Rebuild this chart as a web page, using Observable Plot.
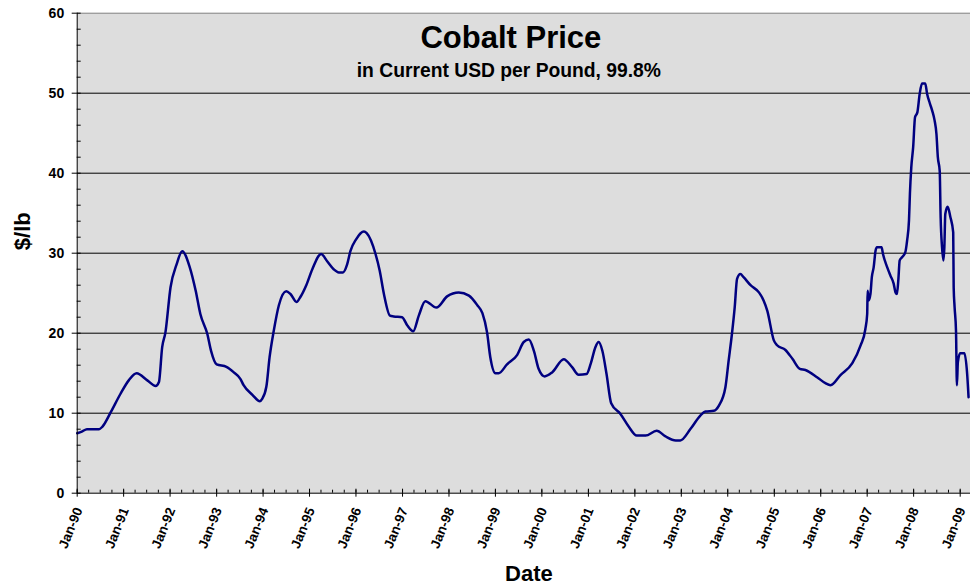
<!DOCTYPE html>
<html><head><meta charset="utf-8">
<script src="https://cdn.jsdelivr.net/npm/d3@7"></script>
<script src="https://cdn.jsdelivr.net/npm/@observablehq/plot@0.6"></script>
<style>body{margin:0;background:#fff;} svg{display:block}</style>
</head><body><div id="chart"></div>
<script>
const title = "Cobalt Price";
const subtitle = "in Current USD per Pound, 99.8%";
const xLabel = "Date";
const yLabel = "$/lb";
const tickYears = [1990,1991,1992,1993,1994,1995,1996,1997,1998,1999,2000,2001,2002,2003,2004,2005,2006,2007,2008,2009];
const tickLabels = ["Jan-90","Jan-91","Jan-92","Jan-93","Jan-94","Jan-95","Jan-96","Jan-97","Jan-98","Jan-99","Jan-00","Jan-01","Jan-02","Jan-03","Jan-04","Jan-05","Jan-06","Jan-07","Jan-08","Jan-09"];
const yTicks = [0,10,20,30,40,50,60];

// decimal year of each observation
const dateYears = [
1990.00,1990.10,1990.21,1990.47,1990.54,1990.72,1990.93,1991.11,1991.28,1991.51,1991.69,1991.76,1991.83,1991.90,
1992.01,1992.14,1992.26,1992.42,1992.55,1992.65,1992.80,1992.88,1993.00,1993.21,1993.37,1993.51,1993.58,1993.77,
1993.93,1993.98,1994.07,1994.14,1994.23,1994.34,1994.50,1994.59,1994.72,1994.80,1994.93,1995.06,1995.25,1995.38,
1995.52,1995.63,1995.72,1995.81,1995.88,1996.01,1996.10,1996.17,1996.23,1996.42,1996.51,1996.60,1996.73,1996.81,
1996.99,1997.10,1997.23,1997.35,1997.49,1997.73,1997.96,1998.21,1998.43,1998.61,1998.72,1998.82,1998.89,1999.00,
1999.07,1999.25,1999.47,1999.61,1999.72,1999.83,1999.93,2000.06,2000.22,2000.47,2000.65,2000.79,2000.96,2001.05,
2001.15,2001.22,2001.30,2001.39,2001.49,2001.69,2001.87,2002.04,2002.23,2002.47,2002.66,2002.88,2002.98,2003.20,
2003.41,2003.52,2003.70,2003.81,2003.95,2004.02,2004.09,2004.15,2004.20,2004.27,2004.34,2004.49,2004.67,2004.77,
2004.85,2004.99,2005.06,2005.24,2005.39,2005.55,2005.67,2005.92,2006.10,2006.21,2006.43,2006.68,2006.86,2006.96,
2007.00,2007.01,2007.03,2007.07,2007.10,2007.14,2007.18,2007.21,2007.31,2007.34,2007.43,2007.50,2007.57,2007.61,
2007.64,2007.67,2007.70,2007.75,2007.82,2007.86,2007.90,2007.92,2007.95,2007.99,2008.03,2008.08,2008.13,2008.18,
2008.25,2008.29,2008.35,2008.40,2008.45,2008.49,2008.52,2008.56,2008.58,2008.61,2008.64,2008.66,2008.68,2008.73,
2008.79,2008.85,2008.86,2008.88,2008.91,2008.93,2008.95,2009.00,2009.09,2009.15,2009.18
];
// price, USD per pound
const priceUSD = [
7.5,7.7,8.0,8.0,8.3,10.1,12.4,14.1,15.0,14.1,13.4,13.9,18.25,20.1,
25.75,28.6,30.25,28.3,25.3,22.4,19.9,17.8,16.1,15.8,15.1,14.3,13.5,12.3,
11.5,11.8,13.3,17.0,20.3,23.5,25.25,24.9,23.9,24.5,26.0,28.0,29.9,29.0,
28.0,27.6,27.6,28.6,30.25,31.8,32.5,32.7,32.5,29.9,27.8,24.9,22.2,22.1,
22.0,21.0,20.25,22.2,24.0,23.2,24.6,25.1,24.7,23.5,22.5,20.1,17.0,15.0,
15.0,16.1,17.3,18.9,19.2,17.75,15.55,14.6,15.1,16.75,15.75,14.8,14.9,16.2,
18.25,18.9,17.8,14.9,11.25,9.9,8.3,7.2,7.2,7.8,7.1,6.6,6.6,8.05,
9.7,10.2,10.3,10.95,13.25,16.6,19.9,23.25,26.8,27.4,27.0,26.0,25.1,24.1,
22.8,19.1,18.5,17.9,16.8,15.55,15.4,14.5,13.75,13.5,14.8,16.25,18.5,20.5,
22.4,25.3,24.1,24.9,27.0,28.25,30.3,30.75,30.75,29.9,28.25,27.2,26.2,25.1,
24.9,26.6,29.1,29.5,30.1,31.6,34.1,37.4,40.75,43.25,47.0,47.6,49.9,51.2,
51.2,49.9,48.7,47.8,46.6,44.9,42.0,40.3,34.5,30.75,29.1,30.75,34.9,35.8,
34.5,32.6,25.75,23.25,20.3,13.5,16.4,17.5,17.5,14.9,12.0
];

const toDate = y => {
  const yr = Math.floor(y);
  const s = Date.UTC(yr, 0, 1), e = Date.UTC(yr + 1, 0, 1);
  return new Date(s + (y - yr) * (e - s));
};
const data = dateYears.map((t, i) => ({date: toDate(t), price: priceUSD[i]}));
const tickDates = tickYears.map(y => new Date(Date.UTC(y, 0, 1)));
const xStart = new Date(Date.UTC(1990, 0, 1));
const xEnd = new Date(Date.UTC(2009, 2, 23));
const quarterDates = d3.utcMonth.every(3).range(xStart, xEnd);
const minorY = d3.range(0, 61, 2);

const chart = Plot.plot({
  width: 970,
  height: 586,
  marginLeft: 76.7,
  marginRight: 0,
  marginTop: 12.7,
  marginBottom: 93.3,
  style: {fontFamily: "'Liberation Sans', Arial, sans-serif", background: "#fff", color: "#000"},
  x: {type: "utc", domain: [xStart, xEnd]},
  y: {domain: [0, 60]},
  marks: [
    Plot.frame({fill: "#dddddd", stroke: "none"}),
    Plot.ruleY([10, 20, 30, 40, 50], {stroke: "#000", strokeWidth: 1}),
    Plot.ruleY([60], {stroke: "#808080", strokeWidth: 1}),
    Plot.lineY(data, {x: "date", y: "price", stroke: "#000080", strokeWidth: 2.5, curve: "monotone-x"}),
    Plot.frame({anchor: "left", stroke: "#000"}),
    Plot.frame({anchor: "bottom", stroke: "#000"}),
    // y ticks
    Plot.axisY(yTicks, {tickSize: 5, fill: "none", label: null}),
    Plot.axisY(minorY, {tickSize: 4, dx: 4, fill: "none", label: null}),
    Plot.axisY(yTicks, {tickSize: 0, tickPadding: 13, fontSize: 14, fontWeight: "bold", label: null}),
    // x ticks
    Plot.axisX(tickDates, {tickSize: 4, fill: "none", label: null}),
    Plot.axisX(tickDates, {tickSize: 4, dy: -4, fill: "none", label: null}),
    Plot.axisX(quarterDates, {tickSize: 3, dy: -3, fill: "none", label: null}),
    Plot.text(tickDates, {x: d => d, text: (d, i) => tickLabels[i], frameAnchor: "bottom", rotate: -68,
      textAnchor: "end", lineAnchor: "middle", dx: 1.5, dy: 15, fontSize: 13.5, fontWeight: "bold"}),
    // titles
    Plot.text([title], {text: d => d, frameAnchor: "top", dx: -13, dy: 34.3, lineAnchor: "bottom", fontSize: 31, fontWeight: "bold"}),
    Plot.text([subtitle], {text: d => d, frameAnchor: "top", dx: -15, dy: 64, lineAnchor: "bottom", fontSize: 19.3, fontWeight: "bold"}),
    Plot.text([xLabel], {text: d => d, frameAnchor: "bottom", dx: 5, dy: 87.3, lineAnchor: "bottom", fontSize: 22, fontWeight: "bold"}),
    Plot.text([yLabel], {text: d => d, frameAnchor: "left", dx: -54.7, dy: -3, rotate: -90, lineAnchor: "middle", fontSize: 22, fontWeight: "bold"})
  ]
});
document.getElementById("chart").appendChild(chart);
</script>
</body></html>
